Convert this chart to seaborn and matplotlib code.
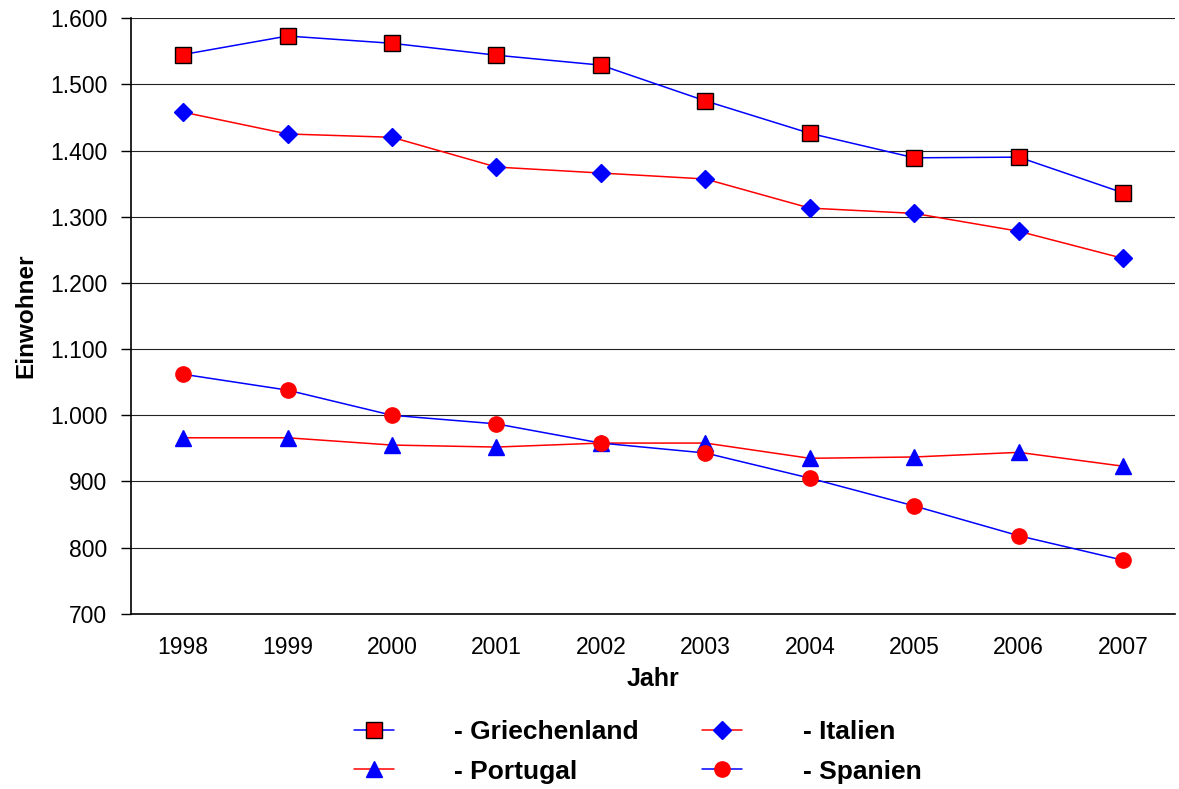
import pandas as pd
import matplotlib
matplotlib.use('Agg')
import matplotlib.pyplot as plt
import seaborn as sns
from matplotlib.ticker import FuncFormatter, MultipleLocator
from matplotlib.lines import Line2D

# Daten
jahre = [1998, 1999, 2000, 2001, 2002, 2003, 2004, 2005, 2006, 2007]
griechenland = [1545, 1573, 1562, 1544, 1529, 1475, 1426, 1389, 1390, 1336]
italien = [1458, 1425, 1420, 1375, 1366, 1357, 1313, 1305, 1278, 1237]
portugal = [966, 966, 955, 952, 958, 958, 935, 937, 944, 923]
spanien = [1062, 1038, 1000, 987, 958, 943, 905, 863, 818, 781]

sns.set_style('white')
plt.rcParams['font.family'] = ['Liberation Sans', 'DejaVu Sans']
plt.rcParams['text.color'] = 'black'
plt.rcParams['axes.labelcolor'] = 'black'
plt.rcParams['xtick.color'] = 'black'
plt.rcParams['ytick.color'] = 'black'

fig = plt.figure(figsize=(11.79, 7.89), dpi=100)
ax = fig.add_axes([0.111, 0.222, 0.886, 0.755])

# Serien: (Name, Werte, Linienfarbe, Marker, Markergröße, Füllung, Rand)
serien = {
    'gr': ('- Griechenland', griechenland, 'blue', 's', 11, 'red', 'black'),
    'it': ('- Italien', italien, 'red', 'D', 9.3, 'blue', 'blue'),
    'pt': ('- Portugal', portugal, 'red', '^', 12, 'blue', 'blue'),
    'es': ('- Spanien', spanien, 'blue', 'o', 11, 'red', 'red'),
}

handles = {}
for key, (name, werte, farbe, marker, ms, fc, ec) in serien.items():
    df = pd.DataFrame({'Jahr': jahre, 'Einwohner': werte})
    sns.lineplot(data=df, x='Jahr', y='Einwohner', ax=ax, color=farbe,
                 linewidth=1.1, marker=marker, markersize=ms,
                 markerfacecolor=fc, markeredgecolor=ec, markeredgewidth=1.0,
                 zorder=3)
    handles[key] = Line2D([], [], color=farbe, linewidth=1.1, marker=marker,
                          markersize=ms, markerfacecolor=fc,
                          markeredgecolor=ec, label=name)

ax.set_xlim(jahre[0] - 0.5, jahre[-1] + 0.5)
ax.set_ylim(700, 1600)
ax.set_xticks(jahre)
ax.yaxis.set_major_locator(MultipleLocator(100))
ax.yaxis.set_major_formatter(FuncFormatter(lambda v, p: f'{int(v):,}'.replace(',', '.')))
ax.grid(axis='y', color='#222222', linewidth=0.8)
ax.set_axisbelow(True)

for s in ['top', 'right']:
    ax.spines[s].set_visible(False)
for s in ['left', 'bottom']:
    ax.spines[s].set_color('black')
    ax.spines[s].set_linewidth(1.2)

ax.tick_params(axis='y', direction='out', length=7, width=1, left=True,
               labelsize=16.5, pad=10)
ax.tick_params(axis='x', length=0, labelsize=16.5, pad=16)

ax.set_xlabel('Jahr', fontsize=18, fontweight='bold', labelpad=6)
ax.set_ylabel('Einwohner', fontsize=17.5, fontweight='bold', labelpad=9)

# Spaltenweise Reihenfolge, damit Zeile 1: Griechenland, Italien
leg_order = [handles['gr'], handles['pt'], handles['it'], handles['es']]
fig.legend(handles=leg_order, loc='center', bbox_to_anchor=(0.541, 0.047),
           ncol=2, frameon=False, prop={'size': 19, 'weight': 'bold'},
           handlelength=1.5, handletextpad=2.3, columnspacing=2.4,
           labelspacing=0.58)

plt.savefig('out.png', dpi=100)
